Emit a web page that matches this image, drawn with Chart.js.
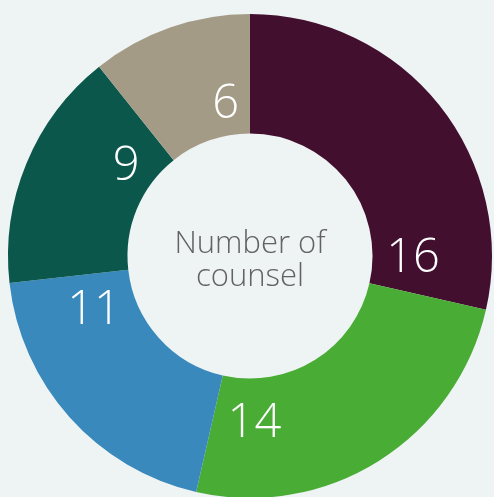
<!DOCTYPE html>
<html>
<head>
<meta charset="utf-8">
<script src="https://cdn.jsdelivr.net/npm/chart.js@4/dist/chart.umd.min.js"></script>
<style>
  html, body { margin: 0; padding: 0; background: #eef3f4; overflow: hidden; }
  #wrap { width: 494px; height: 497px; }
</style>
</head>
<body>
<div id="wrap"><canvas id="c" width="494" height="497"></canvas></div>
<script>
const categories = ["A", "B", "C", "D", "E"];
const values = [16, 14, 11, 9, 6];
const centerTitle = ["Number of", "counsel"];

const colors = ["#420f2f", "#49ac35", "#3989bd", "#0b574c", "#a49b87"];

// label placement: fraction along each arc and radius as fraction of outer radius
const labelFrac = [0.87, 0.84, 0.835, 0.75, 0.77];
const labelRad = [0.674, 0.678, 0.678, 0.641, 0.649];

const labelPlugin = {
  id: 'labels',
  afterDatasetsDraw(chart) {
    const ctx = chart.ctx;
    const meta = chart.getDatasetMeta(0);
    ctx.save();
    ctx.fillStyle = '#ffffff';
    ctx.textAlign = 'center';
    ctx.textBaseline = 'alphabetic';
    const fs = 47;
    ctx.font = "300 " + fs + "px 'Open Sans'";
    meta.data.forEach((arc, i) => {
      const p = arc.getProps(['x', 'y', 'startAngle', 'endAngle', 'outerRadius'], true);
      const a = p.startAngle + (p.endAngle - p.startAngle) * labelFrac[i];
      const r = p.outerRadius * labelRad[i];
      const x = p.x + Math.cos(a) * r;
      const y = p.y + Math.sin(a) * r;
      ctx.fillText(String(values[i]), x, y + fs * 0.725 / 2);
    });
    // center title
    const a0 = meta.data[0];
    const cfs = 31;
    ctx.fillStyle = '#626262';
    ctx.font = "300 " + cfs + "px 'Open Sans'";
    ctx.fillText(centerTitle[0], a0.x, 253);
    ctx.fillText(centerTitle[1], a0.x, 253 + 33);
    ctx.restore();
  }
};

new Chart(document.getElementById('c'), {
  type: 'doughnut',
  data: {
    labels: categories,
    datasets: [{
      data: values,
      backgroundColor: colors,
      borderWidth: 0,
      radius: 242,
      cutout: 122
    }]
  },
  options: {
    responsive: false,
    animation: false,
    layout: { padding: { left: 6, right: 0, top: 15, bottom: 0 } },
    plugins: { legend: { display: false }, tooltip: { enabled: false } }
  },
  plugins: [labelPlugin]
});
</script>
</body>
</html>
